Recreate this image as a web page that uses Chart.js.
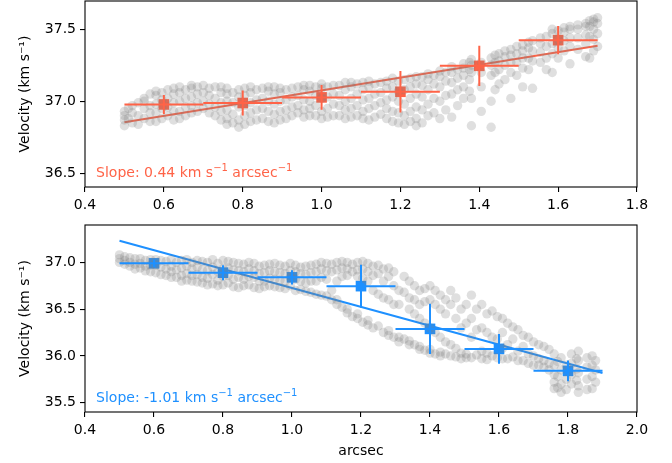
<!DOCTYPE html>
<html>
<head>
<meta charset="utf-8">
<script src="https://cdn.jsdelivr.net/npm/chart.js@4/dist/chart.umd.min.js"></script>
<style>
  body { margin: 0; background: #fff; }
  #wrap { position: relative; width: 672px; height: 463px; }
  canvas { position: absolute; left: 0; }
  #top { top: 0; }
  #bottom { top: 224px; }
</style>
</head>
<body>
<div id="wrap">
  <canvas id="top" width="672" height="225"></canvas>
  <canvas id="bottom" width="672" height="239"></canvas>
</div>
<script>
// Panel 1 (tomato): binned means with errors
const topBins = [0.6, 0.8, 1.0, 1.2, 1.4, 1.6];
const topVel = [36.978, 36.988, 37.027, 37.066, 37.246, 37.424];
const topXErr = [0.1, 0.1, 0.1, 0.1, 0.1, 0.1];
const topYErr = [0.066, 0.086, 0.086, 0.144, 0.14, 0.098];
const topFitX = [0.5, 1.7];
const topFitY = [36.855, 37.385];
const topSlope = '0.44';

// Panel 2 (dodgerblue)
const botBins = [0.6, 0.8, 1.0, 1.2, 1.4, 1.6, 1.8];
const botVel = [36.99, 36.89, 36.84, 36.746, 36.289, 36.075, 35.84];
const botXErr = [0.1, 0.1, 0.1, 0.1, 0.1, 0.1, 0.1];
const botYErr = [0.04, 0.08, 0.077, 0.23, 0.268, 0.16, 0.11];
const botFitX = [0.5, 1.9];
const botFitY = [37.231, 35.818];
const botSlope = '-1.01';

// grey spaxels, read column by column: [x, [velocities]]
const topCloud = [
  [0.50, [36.83, 36.87, 36.90, 36.93]],
  [0.51, [36.88, 36.95]],
  [0.52, [36.85, 36.92, 36.97]],
  [0.535, [36.84, 36.90, 36.99]],
  [0.55, [36.88, 36.95, 37.00, 37.02]],
  [0.565, [36.86, 36.92, 36.97, 37.05]],
  [0.58, [36.86, 36.92, 36.98, 37.04, 37.07]],
  [0.595, [36.88, 36.95, 37.01, 37.06]],
  [0.61, [36.90, 36.96, 37.02, 37.08]],
  [0.625, [36.87, 36.93, 36.99, 37.05, 37.09]],
  [0.64, [36.88, 36.93, 37.00, 37.06, 37.10]],
  [0.655, [36.90, 36.96, 37.02, 37.08]],
  [0.67, [36.92, 36.97, 37.03, 37.09, 37.11]],
  [0.685, [36.93, 36.99, 37.05, 37.10]],
  [0.70, [36.95, 37.00, 37.06, 37.11]],
  [0.715, [36.92, 36.98, 37.04, 37.09]],
  [0.73, [36.90, 36.96, 37.02, 37.10]],
  [0.745, [36.87, 36.93, 36.99, 37.06, 37.10]],
  [0.76, [36.84, 36.88, 36.94, 37.00, 37.05, 37.09]],
  [0.775, [36.85, 36.91, 36.99, 37.06]],
  [0.79, [36.82, 36.87, 36.96, 37.03, 37.08]],
  [0.805, [36.84, 36.90, 36.97, 37.04, 37.09]],
  [0.82, [36.86, 36.92, 36.99, 37.06, 37.10]],
  [0.835, [36.87, 36.94, 37.01, 37.08]],
  [0.85, [36.88, 36.95, 37.02, 37.09]],
  [0.865, [36.86, 36.93, 37.00, 37.07, 37.10]],
  [0.88, [36.85, 36.91, 36.98, 37.05, 37.10]],
  [0.895, [36.87, 36.93, 37.00, 37.06, 37.09]],
  [0.91, [36.88, 36.94, 37.01, 37.08]],
  [0.925, [36.90, 36.96, 37.03, 37.09]],
  [0.94, [36.92, 36.97, 37.04, 37.10]],
  [0.955, [36.89, 36.94, 37.01, 37.08, 37.11]],
  [0.97, [36.90, 36.95, 37.00, 37.07, 37.11]],
  [0.985, [36.90, 36.97, 37.04, 37.10]],
  [1.00, [36.88, 36.93, 37.02, 37.09, 37.12]],
  [1.015, [36.89, 36.95, 37.03, 37.10]],
  [1.03, [36.90, 36.98, 37.05, 37.11]],
  [1.045, [36.90, 36.97, 37.04, 37.11]],
  [1.06, [36.88, 36.94, 37.00, 37.08, 37.13]],
  [1.075, [36.89, 36.95, 37.02, 37.10, 37.13]],
  [1.09, [36.90, 36.97, 37.05, 37.12]],
  [1.105, [36.88, 36.93, 37.01, 37.08, 37.13]],
  [1.12, [36.87, 36.95, 37.02, 37.10, 37.14]],
  [1.135, [36.89, 36.97, 37.05, 37.12]],
  [1.15, [36.91, 36.99, 37.06, 37.13]],
  [1.165, [36.88, 36.95, 37.01, 37.09, 37.14]],
  [1.18, [36.86, 36.93, 37.03, 37.10, 37.16]],
  [1.195, [36.85, 36.92, 37.00, 37.07, 37.14]],
  [1.21, [36.84, 36.90, 36.98, 37.08, 37.15]],
  [1.225, [36.86, 36.93, 37.02, 37.10, 37.16]],
  [1.24, [36.83, 36.88, 36.96, 37.05, 37.12, 37.17]],
  [1.255, [36.85, 36.94, 37.03, 37.11, 37.17]],
  [1.27, [36.90, 36.98, 37.08, 37.15, 37.19]],
  [1.285, [36.92, 37.02, 37.12, 37.18]],
  [1.30, [36.88, 37.00, 37.10, 37.17, 37.21]],
  [1.315, [36.94, 37.04, 37.14, 37.20]],
  [1.33, [36.89, 37.05, 37.13, 37.20, 37.24]],
  [1.345, [36.97, 37.08, 37.16, 37.22]],
  [1.36, [37.02, 37.10, 37.18, 37.23, 37.26]],
  [1.375, [37.07, 37.15, 37.22, 37.27]],
  [1.38, [36.83, 37.02, 37.20, 37.25, 37.29]],
  [1.405, [36.93, 37.10, 37.20, 37.27]],
  [1.43, [36.82, 37.00, 37.18, 37.25, 37.30]],
  [1.44, [37.08, 37.20, 37.27, 37.32]],
  [1.45, [37.12, 37.22, 37.28, 37.33]],
  [1.465, [37.15, 37.25, 37.31, 37.35]],
  [1.48, [37.02, 37.20, 37.27, 37.32, 37.36]],
  [1.495, [37.18, 37.27, 37.33, 37.38]],
  [1.51, [37.10, 37.23, 37.30, 37.35, 37.39]],
  [1.525, [37.22, 37.30, 37.37, 37.41]],
  [1.535, [37.09, 37.28, 37.35, 37.42]],
  [1.555, [37.27, 37.34, 37.40, 37.44]],
  [1.57, [37.22, 37.30, 37.38, 37.45]],
  [1.585, [37.20, 37.33, 37.40, 37.47, 37.50]],
  [1.60, [37.30, 37.37, 37.43, 37.49]],
  [1.615, [37.35, 37.42, 37.48, 37.51]],
  [1.63, [37.26, 37.38, 37.44, 37.50, 37.52]],
  [1.65, [37.36, 37.44, 37.50, 37.53]],
  [1.67, [37.31, 37.40, 37.46, 37.52, 37.54]],
  [1.68, [37.30, 37.45, 37.52, 37.56]],
  [1.69, [37.35, 37.43, 37.50, 37.55, 37.57]],
  [1.70, [37.38, 37.47, 37.54, 37.58]]
];
const botCloud = [
  [0.50, [37.08, 37.04, 37.00]],
  [0.515, [37.06, 37.02, 36.98]],
  [0.53, [37.05, 37.00, 36.96]],
  [0.545, [37.04, 36.98, 36.93]],
  [0.56, [37.04, 36.99, 36.94]],
  [0.575, [37.02, 36.96, 36.91]],
  [0.59, [37.03, 36.97, 36.90]],
  [0.605, [37.03, 36.97, 36.89]],
  [0.62, [37.02, 36.95, 36.87]],
  [0.635, [37.01, 36.93, 36.86]],
  [0.65, [37.03, 36.96, 36.90, 36.84]],
  [0.665, [37.00, 36.92, 36.84]],
  [0.68, [37.02, 36.94, 36.86, 36.80]],
  [0.695, [37.03, 36.96, 36.88, 36.81]],
  [0.71, [37.00, 36.93, 36.86, 36.80]],
  [0.725, [37.02, 36.95, 36.87, 36.79]],
  [0.74, [37.01, 36.92, 36.84, 36.78]],
  [0.755, [37.00, 36.91, 36.83, 36.76]],
  [0.77, [37.03, 36.95, 36.87, 36.77]],
  [0.785, [36.99, 36.90, 36.81, 36.75]],
  [0.80, [37.02, 36.93, 36.85, 36.76]],
  [0.815, [37.01, 36.94, 36.86, 36.78]],
  [0.83, [37.00, 36.92, 36.82, 36.74]],
  [0.845, [36.99, 36.91, 36.84, 36.73]],
  [0.86, [36.98, 36.90, 36.82, 36.75]],
  [0.875, [37.00, 36.93, 36.85, 36.76]],
  [0.89, [36.99, 36.91, 36.84, 36.73]],
  [0.905, [36.96, 36.88, 36.80, 36.72]],
  [0.92, [36.97, 36.89, 36.80, 36.74]],
  [0.935, [36.98, 36.91, 36.83, 36.75]],
  [0.95, [36.99, 36.90, 36.82, 36.74]],
  [0.965, [36.97, 36.89, 36.81, 36.73]],
  [0.98, [36.96, 36.88, 36.80, 36.72]],
  [0.995, [36.99, 36.91, 36.84, 36.75]],
  [1.01, [36.97, 36.90, 36.82, 36.70]],
  [1.025, [36.95, 36.88, 36.80, 36.71]],
  [1.04, [36.96, 36.87, 36.78, 36.69]],
  [1.055, [36.97, 36.89, 36.80, 36.68]],
  [1.07, [36.98, 36.90, 36.80, 36.66]],
  [1.085, [37.00, 36.93, 36.84, 36.65]],
  [1.10, [36.99, 36.91, 36.82, 36.64]],
  [1.115, [36.98, 36.90, 36.70, 36.60]],
  [1.13, [37.00, 36.92, 36.80, 36.60, 36.55]],
  [1.145, [37.01, 36.94, 36.85, 36.52]],
  [1.16, [37.00, 36.93, 36.86, 36.50, 36.46]],
  [1.175, [36.98, 36.90, 36.42]],
  [1.19, [37.00, 36.92, 36.85, 36.45, 36.40]],
  [1.205, [37.01, 36.93, 36.83, 36.36]],
  [1.22, [36.99, 36.90, 36.80, 36.38, 36.33]],
  [1.235, [36.96, 36.86, 36.70, 36.30]],
  [1.25, [36.97, 36.88, 36.66, 36.32]],
  [1.265, [36.93, 36.80, 36.62, 36.25]],
  [1.28, [36.94, 36.85, 36.60, 36.27, 36.22]],
  [1.295, [36.90, 36.75, 36.55, 36.20]],
  [1.31, [36.70, 36.55, 36.20, 36.15]],
  [1.325, [36.85, 36.68, 36.18]],
  [1.34, [36.80, 36.62, 36.50, 36.16, 36.12]],
  [1.355, [36.75, 36.60, 36.45, 36.12]],
  [1.37, [36.70, 36.55, 36.40, 36.10, 36.07]],
  [1.385, [36.72, 36.58, 36.35, 36.06]],
  [1.40, [36.75, 36.60, 36.30, 36.07, 36.03]],
  [1.415, [36.70, 36.55, 36.25, 36.02]],
  [1.43, [36.65, 36.50, 36.20, 36.04, 36.00]],
  [1.445, [36.60, 36.45, 36.15, 36.02]],
  [1.46, [36.70, 36.55, 36.12, 36.00]],
  [1.475, [36.62, 36.40, 36.08, 35.99]],
  [1.49, [36.50, 36.30, 36.03, 35.97]],
  [1.505, [36.55, 36.35, 36.02, 35.98]],
  [1.52, [36.65, 36.40, 36.20, 35.98]],
  [1.535, [36.50, 36.28, 36.01]],
  [1.55, [36.55, 36.30, 36.05, 35.97]],
  [1.565, [36.45, 36.25, 36.03, 35.96]],
  [1.58, [36.48, 36.20, 36.00]],
  [1.595, [36.42, 36.18, 35.98]],
  [1.61, [36.40, 36.25, 36.08, 35.97]],
  [1.625, [36.35, 36.12, 35.97]],
  [1.64, [36.31, 36.18, 35.99]],
  [1.655, [36.28, 36.05, 35.95]],
  [1.67, [36.22, 36.10, 35.95]],
  [1.685, [36.20, 36.02, 35.92]],
  [1.70, [36.15, 36.00, 35.90]],
  [1.715, [36.12, 35.97, 35.90]],
  [1.73, [36.10, 35.95, 35.88]],
  [1.745, [36.07, 35.92, 35.85]],
  [1.76, [36.02, 35.90, 35.80, 35.72, 35.65]],
  [1.77, [35.94, 35.78, 35.66]],
  [1.78, [35.98, 35.85, 35.70, 35.61]],
  [1.795, [35.90, 35.75, 35.64]],
  [1.81, [36.02, 35.92, 35.80, 35.70]],
  [1.825, [35.97, 35.86, 35.74]],
  [1.83, [36.05, 35.95, 35.82, 35.68, 35.61]],
  [1.855, [35.98, 35.88, 35.75, 35.64]],
  [1.87, [36.00, 35.90, 35.78, 35.65]],
  [1.88, [35.95, 35.85, 35.72]]
];

const topXTicks = [0.4, 0.6, 0.8, 1.0, 1.2, 1.4, 1.6, 1.8];
const topYTicks = [36.5, 37.0, 37.5];
const botXTicks = [0.4, 0.6, 0.8, 1.0, 1.2, 1.4, 1.6, 1.8, 2.0];
const botYTicks = [35.5, 36.0, 36.5, 37.0];

const FONT = { family: 'DejaVu Sans', size: 14 };
const GREY = 'rgba(128,128,128,0.25)';

function flatCloud(cloud) {
  const out = [];
  cloud.forEach(col => col[1].forEach(v => out.push({ x: col[0], y: v })));
  return out;
}

function pairs(xs, ys) {
  return xs.map((x, i) => ({ x: x, y: ys[i] }));
}

// text with raised "−1" pieces, like mathtext
function drawRich(ctx, parts, x, y) {
  parts.forEach(p => {
    ctx.font = p.sup ? '10px "DejaVu Sans"' : '14px "DejaVu Sans"';
    ctx.fillText(p.t, x, p.sup ? y - 6 : y);
    x += ctx.measureText(p.t).width;
  });
}

// error bars, slope note and the box round the axes
const extras = {
  id: 'extras',
  afterDatasetsDraw(chart, args, opts) {
    const ctx = chart.ctx, xs = chart.scales.x, ys = chart.scales.y;
    ctx.save();
    ctx.strokeStyle = opts.color;
    ctx.lineWidth = 2;
    opts.xs.forEach((x, i) => {
      const y = opts.ys[i];
      const px = xs.getPixelForValue(x), py = ys.getPixelForValue(y);
      ctx.beginPath();
      ctx.moveTo(xs.getPixelForValue(x - opts.xerr[i]), py);
      ctx.lineTo(xs.getPixelForValue(x + opts.xerr[i]), py);
      ctx.moveTo(px, ys.getPixelForValue(y - opts.yerr[i]));
      ctx.lineTo(px, ys.getPixelForValue(y + opts.yerr[i]));
      ctx.stroke();
    });
    const a = chart.chartArea;
    ctx.fillStyle = opts.color;
    ctx.textBaseline = 'alphabetic';
    drawRich(ctx, [
      { t: 'Slope: ' + opts.slope + ' km s' },
      { t: '\u22121', sup: true },
      { t: ' arcsec' },
      { t: '\u22121', sup: true }
    ], a.left + 0.02 * (a.right - a.left), a.bottom - 0.055 * (a.bottom - a.top));
    ctx.strokeStyle = '#000';
    ctx.lineWidth = 1.1;
    ctx.strokeRect(a.left, a.top, a.right - a.left, a.bottom - a.top);
    ctx.restore();
  }
};

function makePanel(id, cfg) {
  const scaleX = {
    type: 'linear', min: cfg.xTicks[0], max: cfg.xTicks[cfg.xTicks.length - 1],
    afterBuildTicks: s => { s.ticks = cfg.xTicks.map(v => ({ value: v })); },
    afterFit: s => { s.height = cfg.xHeight; s.paddingLeft = 0; s.paddingRight = 0; },
    grid: { drawOnChartArea: false, tickLength: 5, color: '#000', lineWidth: 1.1 },
    border: { display: false },
    ticks: { color: '#000', font: FONT, padding: 5, maxRotation: 0, callback: v => v.toFixed(1) },
    title: cfg.xTitle ? { display: true, text: cfg.xTitle, color: '#000', font: FONT, padding: { top: 0, bottom: 3 } } : { display: false }
  };
  const scaleY = {
    type: 'linear', min: cfg.yMin, max: cfg.yMax,
    afterBuildTicks: s => { s.ticks = cfg.yTicks.map(v => ({ value: v })); },
    afterFit: s => { s.width = 85; s.paddingTop = 0; s.paddingBottom = 0; },
    grid: { drawOnChartArea: false, tickLength: 5, color: '#000', lineWidth: 1.1 },
    border: { display: false },
    ticks: { color: '#000', font: FONT, padding: 4, callback: v => v.toFixed(1) },
    title: { display: true, text: 'Velocity (km s\u207B\u00B9)', color: '#000', font: FONT, padding: { top: 17, bottom: 0 } }
  };
  return new Chart(document.getElementById(id), {
    type: 'scatter',
    data: {
      datasets: [
        { data: flatCloud(cfg.cloud), pointRadius: 4.7, pointBackgroundColor: GREY, pointBorderWidth: 0 },
        { data: pairs(cfg.fitX, cfg.fitY), showLine: true, borderColor: cfg.color, borderWidth: 2, pointRadius: 0 },
        { data: pairs(cfg.bins, cfg.vel), pointStyle: 'rect', pointRadius: 7.5, pointBackgroundColor: cfg.color, pointBorderWidth: 0 }
      ]
    },
    options: {
      responsive: false, animation: false, devicePixelRatio: 1,
      layout: { autoPadding: false, padding: { top: 1, right: 35, left: 0, bottom: 0 } },
      plugins: {
        legend: { display: false }, tooltip: { enabled: false },
        extras: { color: cfg.color, xs: cfg.bins, ys: cfg.vel, xerr: cfg.xErr, yerr: cfg.yErr, slope: cfg.slope }
      },
      scales: { x: scaleX, y: scaleY }
    },
    plugins: [extras]
  });
}

makePanel('top', {
  cloud: topCloud, bins: topBins, vel: topVel, xErr: topXErr, yErr: topYErr,
  fitX: topFitX, fitY: topFitY, slope: topSlope, color: '#ff6347',
  xTicks: topXTicks, yTicks: topYTicks, yMin: 36.405, yMax: 37.696, xHeight: 38
});
makePanel('bottom', {
  cloud: botCloud, bins: botBins, vel: botVel, xErr: botXErr, yErr: botYErr,
  fitX: botFitX, fitY: botFitY, slope: botSlope, color: '#1e90ff',
  xTicks: botXTicks, yTicks: botYTicks, yMin: 35.40, yMax: 37.40, xHeight: 51, xTitle: 'arcsec'
});
</script>
</body>
</html>
